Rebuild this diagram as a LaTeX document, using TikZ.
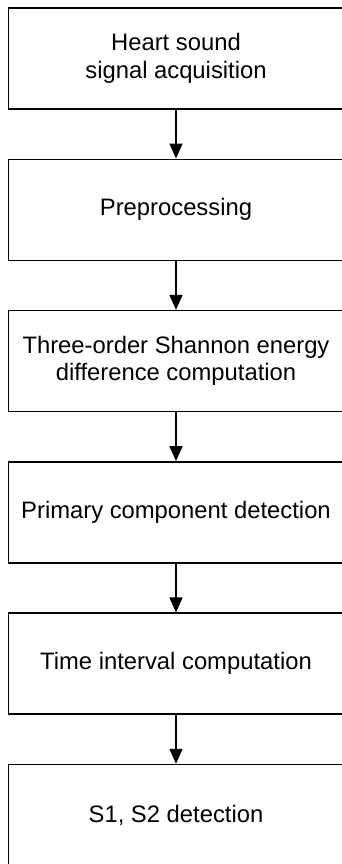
\documentclass[tikz,border=0pt]{standalone}
\usepackage{fontspec}
\setmainfont{Liberation Sans}
\usetikzlibrary{positioning, arrows.meta}
\tikzset{
  every node/.style={font=\fontsize{11.9}{13.7}\selectfont},
  arr/.style={-{Triangle[width=6.5pt, length=7.5pt]}, line width=0.7pt},
  stepbox/.style={draw, line width=0.75pt, minimum width=167.5pt, minimum height=50.5pt,
                  inner sep=2pt, align=center},
}

\begin{document}
\begin{tikzpicture}[node distance=24.4pt]
  % page frame (the last box runs past the right and lower edge)
  \useasboundingbox (0pt,0pt) rectangle (171pt,-432pt);
  % the pipeline
  \node[stepbox] (acq) at (88pt,-29.25pt) {Heart sound\\signal acquisition};
  \node[stepbox, below=of acq] (pre) {Preprocessing};
  \node[stepbox, below=of pre] (tose) {Three-order Shannon energy\\difference computation};
  \node[stepbox, below=of tose] (prim) {Primary component detection};
  \node[stepbox, below=of prim] (intv) {Time interval computation};
  \node[stepbox, below=of intv] (sdet) {S1, S2 detection};
  % arrows
  \draw[arr] (acq) -- (pre);
  \draw[arr] (pre) -- (tose);
  \draw[arr] (tose) -- (prim);
  \draw[arr] (prim) -- (intv);
  \draw[arr] (intv) -- (sdet);
\end{tikzpicture}
\end{document}
